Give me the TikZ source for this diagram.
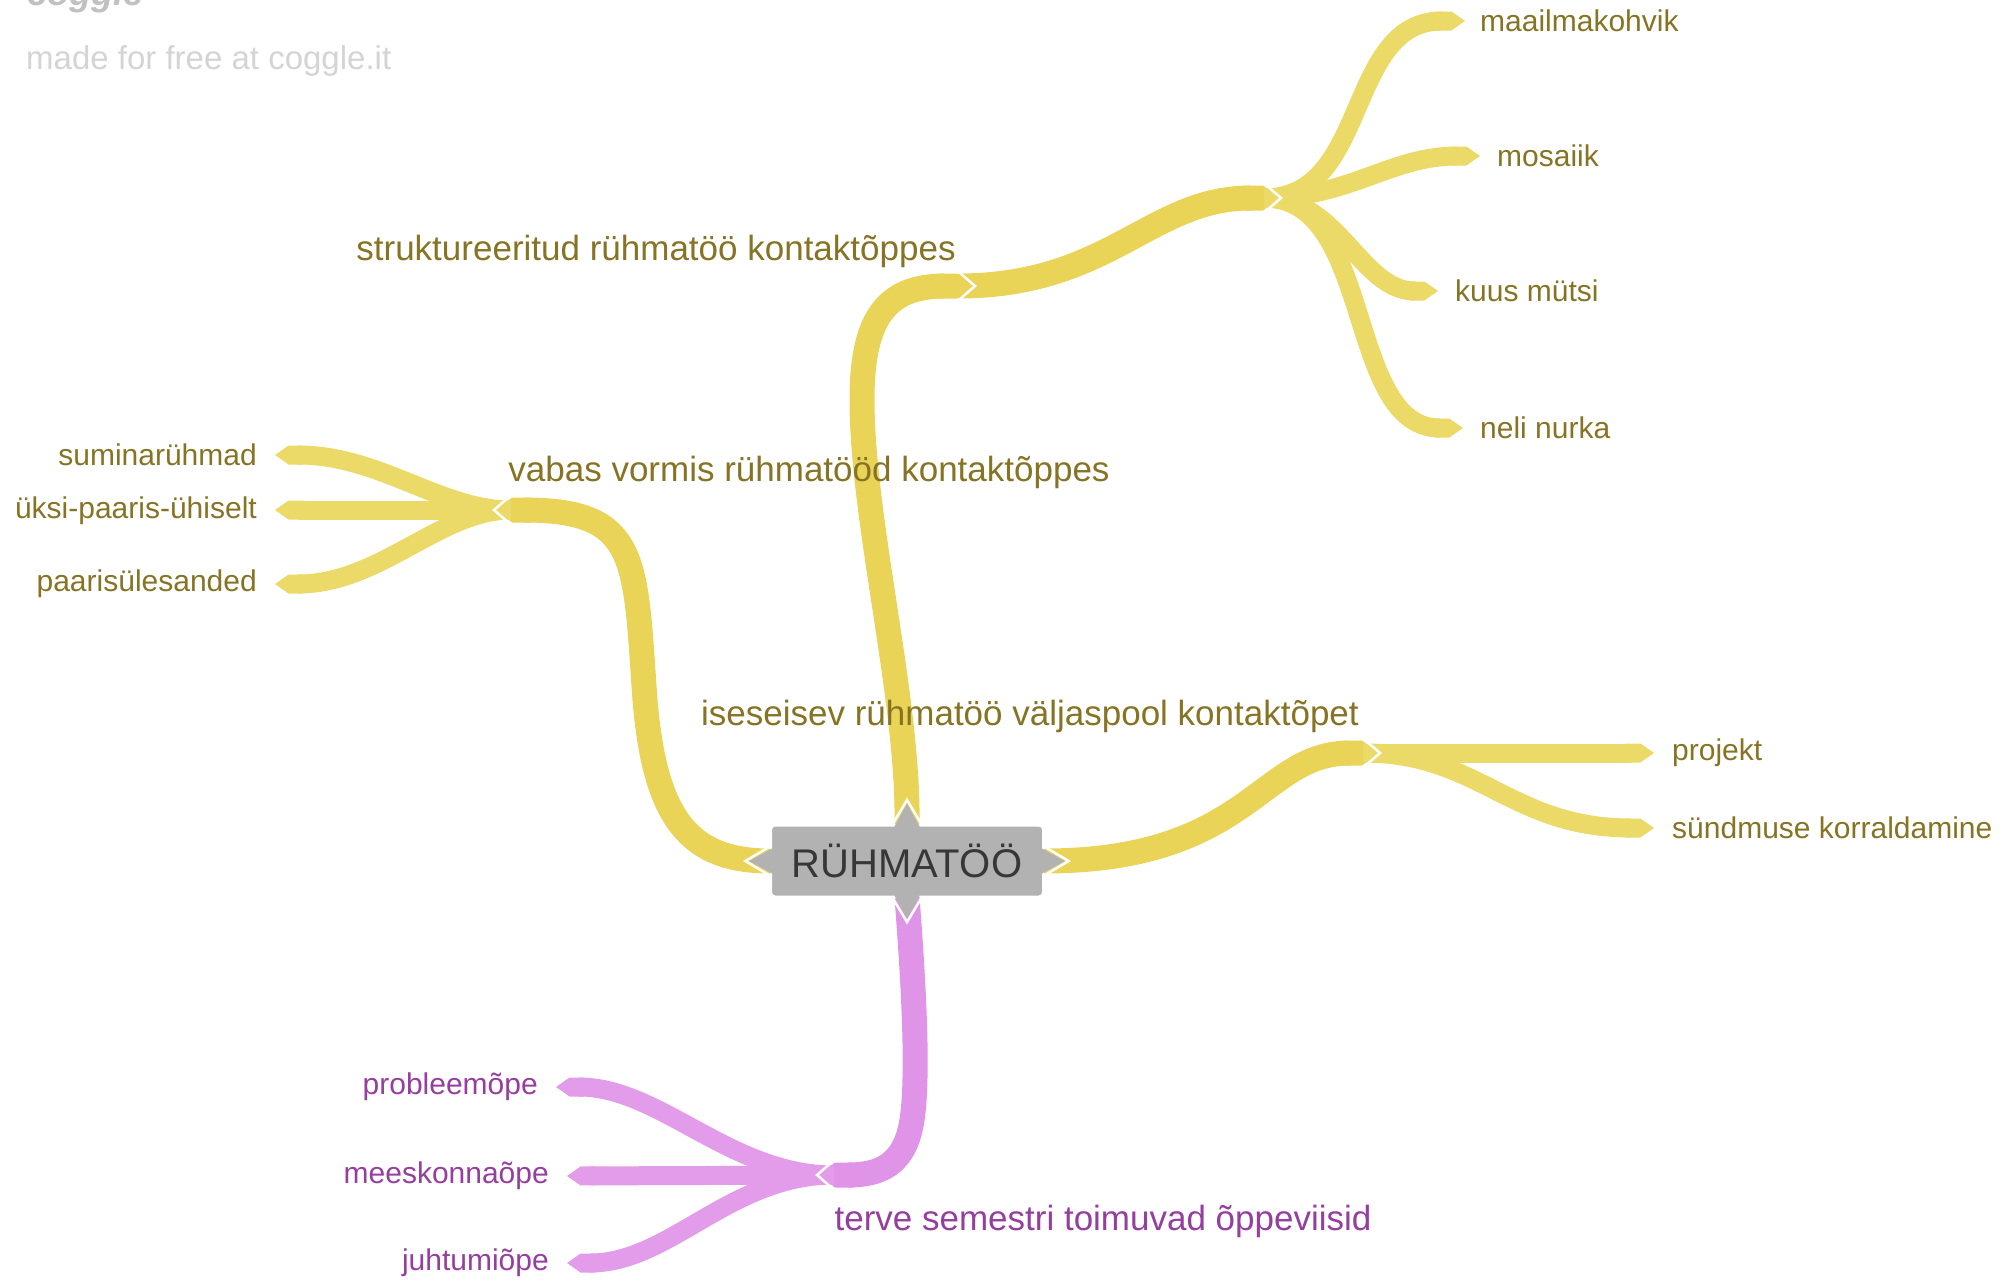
\documentclass[tikz,border=0pt]{standalone}
\usepackage{fontspec}
\setmainfont{Liberation Sans}
\usepackage{tikz}
\usetikzlibrary{arrows.meta,calc}
\usepackage{xcolor}
\definecolor{mapyellow}{RGB}{233,212,88}
\definecolor{leafyellow}{RGB}{236,218,104}
\definecolor{mapviolet}{RGB}{224,148,232}
\definecolor{leafviolet}{RGB}{227,156,234}
\definecolor{olivetext}{RGB}{134,116,36}
\definecolor{violettext}{RGB}{150,62,160}
\definecolor{hubgray}{RGB}{178,178,178}
\definecolor{hubtext}{RGB}{55,55,55}
\definecolor{markgray}{RGB}{212,212,212}
\newcommand\notchmark[2]{\draw[notchline,shift={(#1)},rotate=#2] (-16,-16.5) -- (3,0) -- (-16,16.5);}
\newcommand\hubspike[2]{%
  \fill[hubgray,shift={(#1)},rotate=#2] (-3,-13) -- (21,0) -- (-3,13) -- cycle;
  \draw[notchline,shift={(#1)},rotate=#2] (0,-14.6) -- (24.6,0) -- (0,14.6);}

\begin{document}
\begin{tikzpicture}[x=1pt,y=-1pt]
  \tikzset{mainedge/.style={line width=25pt,-{Triangle Cap[cap angle=80]}}}
  \tikzset{leafedge/.style={line width=19pt,-{Triangle Cap[cap angle=70]}}}
  \tikzset{notchline/.style={draw=white,line width=2.5pt}}
  \tikzset{hubbox/.style={rounded corners=4pt,fill=hubgray,draw=white,line width=2pt,minimum width=272pt,minimum height=71pt,inner sep=0pt,text=hubtext,font=\fontsize{40}{46}\selectfont}}
  \tikzset{branchlabel/.style={font=\fontsize{35}{40}\selectfont,inner sep=0pt}}
  \tikzset{leaflabel/.style={font=\fontsize{30}{35}\selectfont,inner sep=0pt}}
  \useasboundingbox (0,0) rectangle (2007,1280);
  \clip (0,0) rectangle (2007,1280);
  % watermark
  \node[anchor=base west,inner sep=0pt,text=hubgray!80,font=\fontsize{36}{40}\selectfont\bfseries\itshape] (logo) at (27,5) {coggle};
  \node[anchor=west,inner sep=0pt,text=markgray,font=\fontsize{33}{38}\selectfont] (madefor) at (26,61) {made for free at coggle.it};
  % leaves
  \node[leaflabel,text=olivetext,anchor=west] (kohvik) at (1480,21) {maailmakohvik};
  \node[leaflabel,text=olivetext,anchor=west] (mosaiik) at (1497,156) {mosaiik};
  \node[leaflabel,text=olivetext,anchor=west] (mytsi) at (1455,291) {kuus mütsi};
  \node[leaflabel,text=olivetext,anchor=west] (nurka) at (1480,428) {neli nurka};
  \node[leaflabel,text=olivetext,anchor=east] (suminar) at (257,455) {suminarühmad};
  \node[leaflabel,text=olivetext,anchor=east] (yksi) at (257,511) {üksi-paaris-ühiselt};
  \node[leaflabel,text=olivetext,anchor=east] (paaris) at (257,584) {paarisülesanded};
  \node[leaflabel,text=olivetext,anchor=west] (projekt) at (1672,753) {projekt};
  \node[leaflabel,text=olivetext,anchor=west] (syndmus) at (1672,828) {sündmuse korraldamine};
  \node[leaflabel,text=violettext,anchor=east] (probleem) at (538,1087) {probleemõpe};
  \node[leaflabel,text=violettext,anchor=east] (meeskond) at (549,1176) {meeskonnaõpe};
  \node[leaflabel,text=violettext,anchor=east] (juhtum) at (549,1263) {juhtumiõpe};
  % centre
  \node[hubbox] (hub) at (907,861) {RÜHMATÖÖ};
  \coordinate (jstrukt) at (972,286);
  \coordinate (jtop) at (1278,198);
  \coordinate (jleft) at (497,510);
  \coordinate (jright) at (1377,753);
  \coordinate (jdown) at (820,1175);
  % main branches
  \draw[mainedge,mapyellow] (hub.north) .. controls (909,700) and (862,520) .. (862,400)
    .. controls (862,320) and (885,286) .. (jstrukt);
  \draw[mainedge,mapyellow] ($(jstrukt)+(-14,0)$) .. controls (1110,286) and (1150,198) .. (jtop);
  \draw[mainedge,mapyellow] (hub.west) .. controls (690,861) and (655,820) .. (645,700)
    .. controls (635,560) and (640,510) .. (jleft);
  \draw[mainedge,mapyellow] (hub.east) .. controls (1250,861) and (1260,753) .. (jright);
  \draw[mainedge,mapviolet] (hub.south) .. controls (915,1000) and (918,1080) .. (912,1120)
    .. controls (905,1165) and (880,1175) .. (jdown);
  % leaf branches
  \draw[leafedge,leafyellow] ($(jtop)+(-14,0)$) .. controls (1370,198) and (1345,21) .. ($(kohvik.west)+(-15,0)$);
  \draw[leafedge,leafyellow] ($(jtop)+(-14,0)$) .. controls (1350,198) and (1390,156) .. ($(mosaiik.west)+(-17,0)$);
  \draw[leafedge,leafyellow] ($(jtop)+(-14,0)$) .. controls (1340,198) and (1360,291) .. ($(mytsi.west)+(-17,0)$);
  \draw[leafedge,leafyellow] ($(jtop)+(-14,0)$) .. controls (1375,198) and (1345,428) .. ($(nurka.west)+(-17,0)$);
  \draw[leafedge,leafyellow] ($(jleft)+(14,0)$) .. controls (440,510) and (380,455) .. ($(suminar.east)+(18,0)$);
  \draw[leafedge,leafyellow] ($(jleft)+(14,0)$) -- ($(yksi.east)+(18,-1)$);
  \draw[leafedge,leafyellow] ($(jleft)+(14,0)$) .. controls (440,510) and (380,584) .. ($(paaris.east)+(18,0)$);
  \draw[leafedge,leafyellow] ($(jright)+(-14,0)$) -- ($(projekt.west)+(-18,0)$);
  \draw[leafedge,leafyellow] ($(jright)+(-14,0)$) .. controls (1480,753) and (1510,828) .. ($(syndmus.west)+(-18,0)$);
  \draw[leafedge,leafviolet] ($(jdown)+(14,0)$) .. controls (730,1175) and (660,1087) .. ($(probleem.east)+(18,0)$);
  \draw[leafedge,leafviolet] ($(jdown)+(14,0)$) -- ($(meeskond.east)+(18,0)$);
  \draw[leafedge,leafviolet] ($(jdown)+(14,0)$) .. controls (730,1175) and (670,1263) .. ($(juhtum.east)+(18,0)$);
  % notches
  \notchmark{jstrukt}{0}
  \notchmark{jtop}{0}
  \notchmark{jleft}{180}
  \notchmark{jright}{0}
  \notchmark{jdown}{180}
  \hubspike{hub.north}{90}
  \hubspike{hub.south}{-90}
  \hubspike{hub.west}{180}
  \hubspike{hub.east}{0}
  % branch texts
  \node[branchlabel,text=olivetext] (strukt) at (656,251) {struktureeritud rühmatöö kontaktõppes};
  \node[branchlabel,text=olivetext] (vabas) at (809,472) {vabas vormis rühmatööd kontaktõppes};
  \node[branchlabel,text=olivetext] (iseseisev) at (1030,716) {iseseisev rühmatöö väljaspool kontaktõpet};
  \node[branchlabel,text=violettext] (semester) at (1103,1221) {terve semestri toimuvad õppeviisid};
\end{tikzpicture}
\end{document}
